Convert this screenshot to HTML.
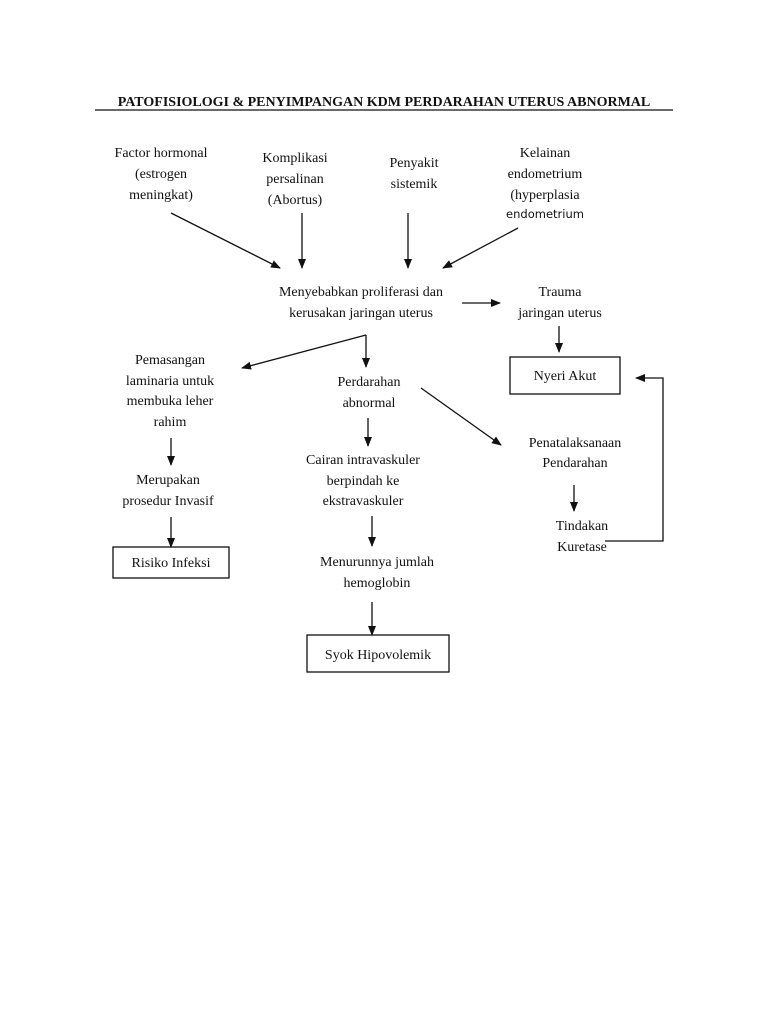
<!DOCTYPE html>
<html><head><meta charset="utf-8"><style>
html,body{margin:0;padding:0;background:#fff;width:768px;height:1024px;overflow:hidden}
svg text{font-family:"Liberation Serif",serif;font-size:14px;fill:#111}
</style></head><body>
<svg width="768" height="1024" viewBox="0 0 768 1024" xmlns="http://www.w3.org/2000/svg">
<defs><marker id="a" markerWidth="10" markerHeight="8" refX="9" refY="4" orient="auto" markerUnits="userSpaceOnUse"><path d="M0,0 L10,4 L0,8 z" fill="#111"/></marker></defs>
<g text-anchor="middle">
<text x="384" y="106" style="font-weight:bold;font-size:14px">PATOFISIOLOGI &amp; PENYIMPANGAN KDM PERDARAHAN UTERUS ABNORMAL</text>
<text x="161" y="157">Factor hormonal</text><text x="161" y="178">(estrogen</text><text x="161" y="199">meningkat)</text>
<text x="295" y="162">Komplikasi</text><text x="295" y="183">persalinan</text><text x="295" y="204">(Abortus)</text>
<text x="414" y="167">Penyakit</text><text x="414" y="188">sistemik</text>
<text x="545" y="157">Kelainan</text><text x="545" y="178">endometrium</text><text x="545" y="199">(hyperplasia</text>
<text x="545" y="218" style="font-family:'DejaVu Sans',sans-serif;font-size:11.5px;font-weight:500">endometrium</text>
<text x="361" y="296">Menyebabkan proliferasi dan</text><text x="361" y="317">kerusakan jaringan uterus</text>
<text x="560" y="296">Trauma</text><text x="560" y="317">jaringan uterus</text>
<text x="565" y="380">Nyeri Akut</text>
<text x="170" y="364">Pemasangan</text><text x="170" y="385">laminaria untuk</text><text x="170" y="405">membuka leher</text><text x="170" y="426">rahim</text>
<text x="369" y="386">Perdarahan</text><text x="369" y="407">abnormal</text>
<text x="575" y="447">Penatalaksanaan</text><text x="575" y="467">Pendarahan</text>
<text x="582" y="530">Tindakan</text><text x="582" y="551">Kuretase</text>
<text x="168" y="484">Merupakan</text><text x="168" y="505">prosedur Invasif</text>
<text x="171" y="567">Risiko Infeksi</text>
<text x="363" y="464">Cairan intravaskuler</text><text x="363" y="485">berpindah ke</text><text x="363" y="505">ekstravaskuler</text>
<text x="377" y="566">Menurunnya jumlah</text><text x="377" y="587">hemoglobin</text>
<text x="378" y="659">Syok Hipovolemik</text>
</g>
<line x1="95" y1="110" x2="673" y2="110" stroke="#111" stroke-width="1.2"/>
<g stroke="#111" stroke-width="1.3" fill="none">
<line x1="171" y1="213" x2="280" y2="268" marker-end="url(#a)"/>
<line x1="302" y1="213" x2="302" y2="268" marker-end="url(#a)"/>
<line x1="408" y1="213" x2="408" y2="268" marker-end="url(#a)"/>
<line x1="518" y1="228" x2="443" y2="268" marker-end="url(#a)"/>
<line x1="462" y1="303" x2="500" y2="303" marker-end="url(#a)"/>
<line x1="559" y1="326" x2="559" y2="352" marker-end="url(#a)"/>
<rect x="510" y="357" width="110" height="37"/>
<line x1="366" y1="335" x2="242" y2="368" marker-end="url(#a)"/>
<line x1="366" y1="335" x2="366" y2="367" marker-end="url(#a)"/>
<line x1="421" y1="388" x2="501" y2="445" marker-end="url(#a)"/>
<line x1="574" y1="485" x2="574" y2="511" marker-end="url(#a)"/>
<polyline points="605,541 663,541 663,378 636,378" marker-end="url(#a)"/>
<line x1="171" y1="438" x2="171" y2="465" marker-end="url(#a)"/>
<line x1="171" y1="517" x2="171" y2="547" marker-end="url(#a)"/>
<rect x="113" y="547" width="116" height="31"/>
<line x1="368" y1="418" x2="368" y2="446" marker-end="url(#a)"/>
<line x1="372" y1="516" x2="372" y2="546" marker-end="url(#a)"/>
<line x1="372" y1="602" x2="372" y2="635" marker-end="url(#a)"/>
<rect x="307" y="635" width="142" height="37"/>
</g>
</svg>
</body></html>
